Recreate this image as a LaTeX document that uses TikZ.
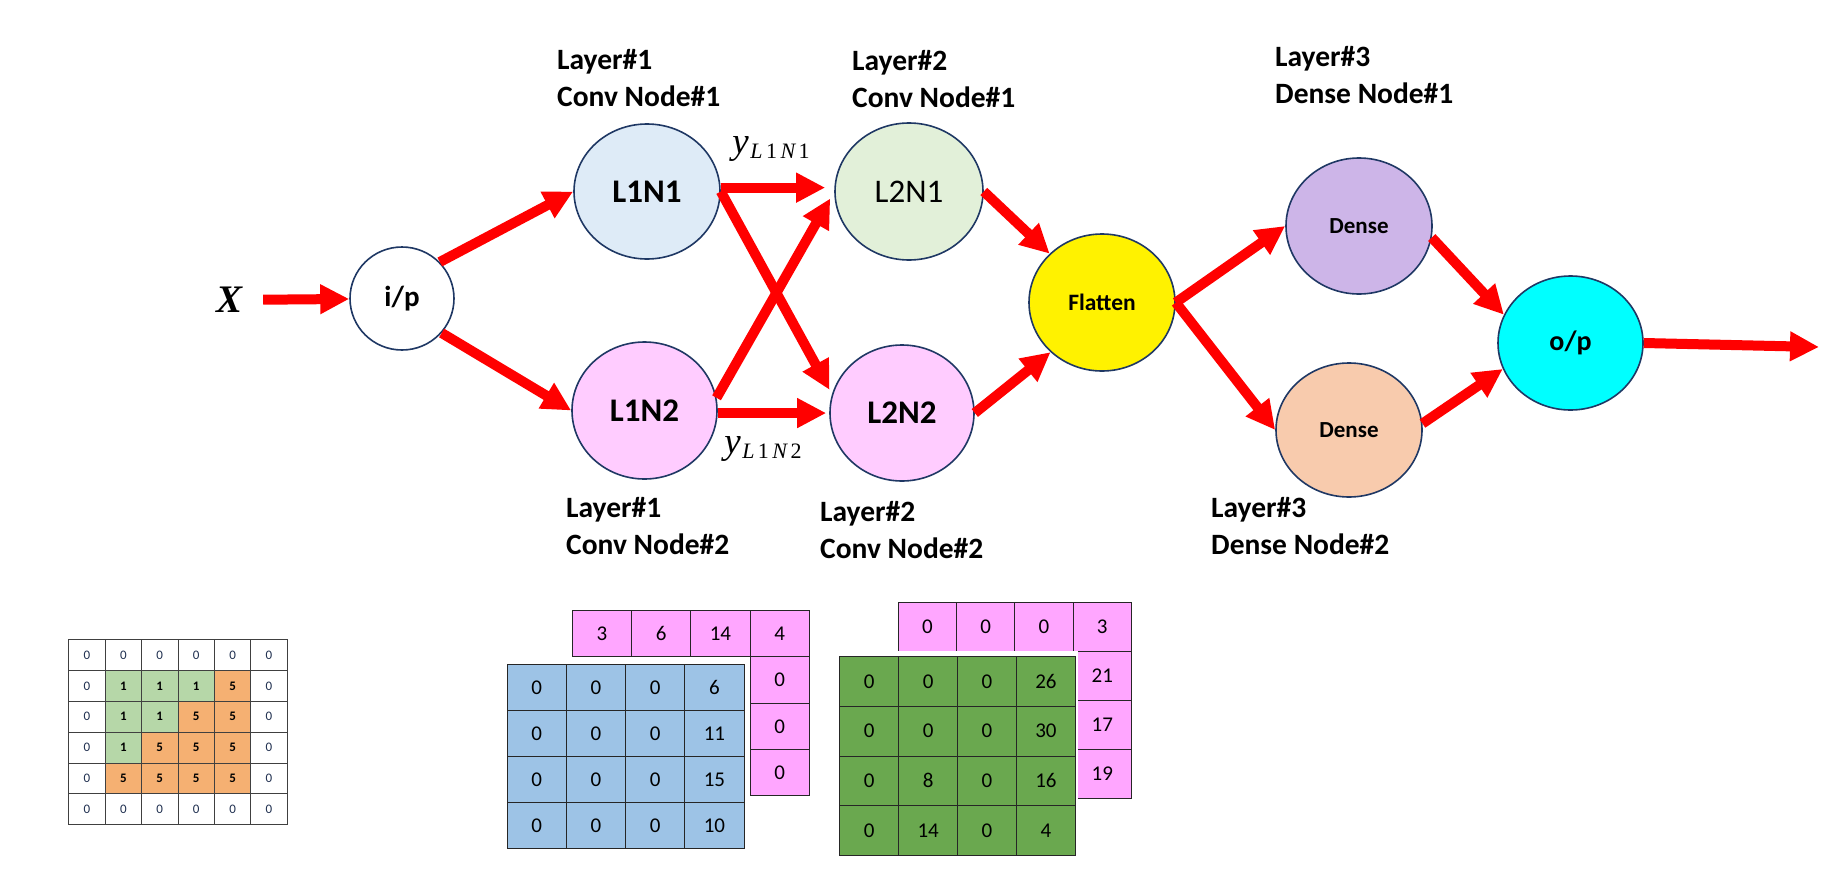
\documentclass[tikz,border=0pt]{standalone}
\usepackage{fontspec}
\setmainfont{Carlito}
\newfontfamily\xserif{Liberation Serif}
\usetikzlibrary{arrows.meta,shapes.geometric,calc}
\definecolor{edgec}{HTML}{1F3864}
\definecolor{l1n1c}{HTML}{DEEBF7}
\definecolor{l2n1c}{HTML}{E2F0D9}
\definecolor{pinkc}{HTML}{FFCCFF}
\definecolor{d1c}{HTML}{CDB5E8}
\definecolor{d2c}{HTML}{F8CBAD}
\definecolor{opc}{HTML}{00FFFF}
\definecolor{gA}{HTML}{B6D7A8}
\definecolor{oA}{HTML}{F5B072}
\definecolor{zeroc}{HTML}{203050}
\definecolor{gpink}{HTML}{FFA6FF}
\definecolor{gblue}{HTML}{9DC3E6}
\definecolor{ggreen}{HTML}{6AA84F}
\newcommand{\ysub}[1]{{\xserif\itshape\fontsize{37}{37}\selectfont y}\kern1.5pt\raisebox{-5pt}{\xserif\fontsize{22}{22}\selectfont\itshape L\kern3.5pt\upshape 1\kern3.5pt\itshape N\kern3.5pt\upshape #1}}
\begin{document}
\begin{tikzpicture}[x=1pt,y=-1pt,
  nd/.style={ellipse,draw=edgec,line width=1.6pt,inner sep=0pt,font=\bfseries\fontsize{33}{33}\selectfont},
  arr/.style={draw=red,line width=10pt,-{Triangle[length=29pt,width=28pt]}},
  lbl/.style={anchor=north west,align=left,inner sep=0pt,font=\bfseries\fontsize{29.5}{37.5}\selectfont},
  ylab/.style={inner sep=0pt},
  smallcell/.style={rectangle,draw=black!75,line width=0.9pt,anchor=north west,inner sep=0pt,minimum width=36.4pt,minimum height=30.8pt},
  bigcell/.style={rectangle,draw=black!85,line width=1pt,anchor=north west,inner sep=0pt,font=\fontsize{21}{21}\selectfont}
]
\path[use as bounding box,fill=white] (0,0) rectangle (1837,886);

% ---------- nodes ----------
\node[inner xsep=20pt,inner ysep=0pt,font=\xserif\bfseries\itshape\fontsize{39}{39}\selectfont] (X) at (230,300) {X};
\node[nd,fill=white,minimum width=104pt,minimum height=103pt,font=\bfseries\fontsize{29}{29}\selectfont] (ip) at (402,298.5) {i/p};
\node[nd,fill=l1n1c,minimum width=146pt,minimum height=135pt] (l1n1) at (647,191.5) {L1N1};
\node[nd,fill=l2n1c,minimum width=148pt,minimum height=137pt,font=\fontsize{33}{33}\selectfont] (l2n1) at (909,191.5) {L2N1};
\node[nd,fill=pinkc,minimum width=145pt,minimum height=137pt] (l1n2) at (644.5,410.5) {L1N2};
\node[nd,fill=pinkc,minimum width=144pt,minimum height=136pt] (l2n2) at (902,413) {L2N2};
\node[nd,fill=yellow,minimum width=146pt,minimum height=137pt,font=\bfseries\fontsize{23.5}{24}\selectfont] (flat) at (1102,302.5) {Flatten};
\node[nd,fill=d1c,minimum width=146pt,minimum height=136pt,font=\bfseries\fontsize{23}{24}\selectfont] (d1) at (1359,226) {Dense};
\node[nd,fill=d2c,minimum width=146pt,minimum height=134pt,font=\bfseries\fontsize{23}{24}\selectfont] (d2) at (1349,430) {Dense};
\node[nd,fill=opc,minimum width=145pt,minimum height=134pt,font=\bfseries\fontsize{28}{28}\selectfont] (op) at (1570.5,343) {o/p};
\coordinate (out) at (1819,347);

% ---------- arrows ----------
\draw[arr] (X) -- (ip);
\draw[arr] (ip.44) -- (l1n1.west);
\draw[arr] (ip.-41) -- (l1n2.west);
\draw[arr,shorten >=9pt] (l1n1.3) -- (l1n1.3 -| l2n1.west);
\draw[arr,shorten >=5pt] (l1n1.east) -- (l2n2.165);
\draw[arr,shorten >=8pt] (l1n2.10) -- (l2n1.west);
\draw[arr,shorten >=3pt] (l1n2.-2) -- (l1n2.-2 -| l2n2.west);
\draw[arr] (l2n1.east) -- (flat.137);
\draw[arr] (l2n2.east) -- (flat.224);
\draw[arr] (flat.east) -- (d1.west);
\draw[arr] (flat.east) -- (d2.west);
\draw[arr] (d1.-9) -- (op.157);
\draw[arr] (d2.5) -- (op.201);
\draw[arr] (op.east) -- (out);

% ---------- labels ----------
\node[lbl] (lab11) at (557,49) {Layer\#1\\Conv Node\#1};
\node[lbl] (lab21) at (852,50) {Layer\#2\\Conv Node\#1};
\node[lbl] (lab31) at (1275,46) {Layer\#3\\Dense Node\#1};
\node[lbl] (lab12) at (566,497) {Layer\#1\\Conv Node\#2};
\node[lbl] (lab22) at (820,501) {Layer\#2\\Conv Node\#2};
\node[lbl] (lab32) at (1211,497) {Layer\#3\\Dense Node\#2};
\node[ylab] (y1) at (771,149) {\ysub{1}};
\node[ylab] (y2) at (763,448.5) {\ysub{2}};

% ---------- input grid ----------
\foreach \row [count=\rr from 0] in {{0,0,0,0,0,0},{0,1,1,1,5,0},{0,1,1,5,5,0},{0,1,5,5,5,0},{0,5,5,5,5,0},{0,0,0,0,0,0}}{
  \foreach \v [count=\cc from 0] in \row {
    \ifnum\v=1 \def\cf{gA}\def\cfont{\bfseries}\else
      \ifnum\v=5 \def\cf{oA}\def\cfont{\bfseries}\else
        \def\cf{white}\def\cfont{\color{zeroc}}\fi\fi
    \node[smallcell,fill=\cf,font=\fontsize{13}{13}\selectfont] (ga-\rr-\cc) at (68.3+\cc*36.4,639.3+\rr*30.8) {\cfont\v};
  }
}

% ---------- grid pair 1 (pink behind, blue front) ----------
\foreach \v [count=\cc from 0] in {3,6,14,4}
  \node[bigcell,fill=gpink,minimum width=59.3pt,minimum height=46.3pt] (pb-0-\cc) at (571.7+\cc*59.3,610) {\v};
\foreach \v [count=\rr from 1] in {0,0,0}
  \node[bigcell,fill=gpink,minimum width=59.3pt,minimum height=46.3pt] (pb-\rr-3) at (571.7+3*59.3,610+\rr*46.3) {\v};
\fill[white] (500,657) rectangle (748.5,856);
\foreach \row [count=\rr from 0] in {{0,0,0,6},{0,0,0,11},{0,0,0,15},{0,0,0,10}}{
  \foreach \v [count=\cc from 0] in \row
    \node[bigcell,fill=gblue,minimum width=59.2pt,minimum height=46.1pt] (bb-\rr-\cc) at (506.7+\cc*59.2,664+\rr*46.1) {\v};
}

% ---------- grid pair 2 (pink behind, green front) ----------
\foreach \v [count=\cc from 0] in {0,0,0,3}
  \node[bigcell,fill=gpink,minimum width=58.3pt,minimum height=49pt] (pc-0-\cc) at (897.7+\cc*58.3,601.7) {\v};
\foreach \v [count=\rr from 1] in {21,17,19}
  \node[bigcell,fill=gpink,minimum width=58.3pt,minimum height=49pt] (pc-\rr-3) at (897.7+3*58.3,601.7+\rr*49) {\v};
\fill[white] (833,651) rectangle (1078.3,862);
\foreach \row [count=\rr from 0] in {{0,0,0,26},{0,0,0,30},{0,8,0,16},{0,14,0,4}}{
  \foreach \v [count=\cc from 0] in \row
    \node[bigcell,fill=ggreen,minimum width=58.9pt,minimum height=49.75pt] (gb-\rr-\cc) at (839.3+\cc*58.9,656+\rr*49.75) {\v};
}
\end{tikzpicture}
\end{document}
